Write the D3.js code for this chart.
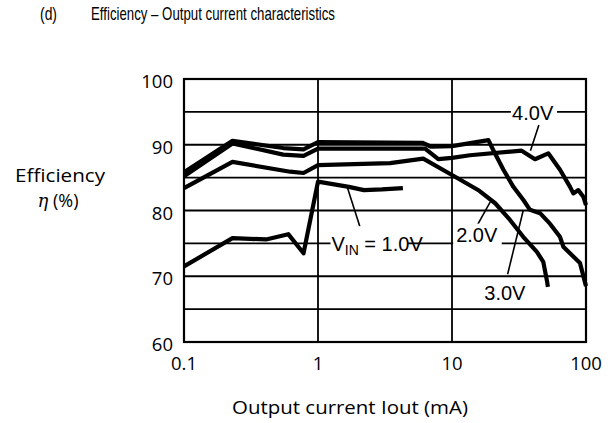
<!DOCTYPE html>
<html><head><meta charset="utf-8">
<script src="https://cdn.jsdelivr.net/npm/d3@7/dist/d3.min.js"></script>
<style>body{margin:0;background:#fff}svg{display:block}</style>
</head><body>
<svg id="c" width="613" height="423"></svg>
<script>
// ---- data ----
const xTicks = [0.1, 1, 10, 100];
const xTickLabels = ["0.1", "1", "10", "100"];
const yTicks = [60, 70, 80, 90, 100];
const yTickLabels = ["60", "70", "80", "90", "100"];
const yGrid = [65, 70, 75, 80, 85, 90, 95];
const xGrid = [1, 10];

const v1x = [0.1, 0.23, 0.41, 0.60, 0.78, 1.0, 1.7, 2.2, 3.0, 4.3];
const v1y = [71.5, 75.8, 75.6, 76.4, 73.5, 84.4, 83.6, 83.1, 83.2, 83.4];

const v2x = [0.1, 0.23, 0.62, 0.78, 1.0, 3.45, 6.1, 10, 16, 21, 27, 34, 43, 48, 51, 52];
const v2y = [83.4, 87.4, 85.9, 85.7, 86.9, 87.2, 87.9, 85.4, 83.0, 81.1, 78.6, 76.0, 73.7, 72.2, 69.4, 68.4];

const v3x = [0.1, 0.23, 0.55, 0.78, 1.0, 6.0, 7.0, 10, 18.7, 20.3, 24.2, 28.7, 34.1, 38.2, 45.4, 53.8, 63.9, 67.7, 90.2, 100];
const v3y = [85.8, 90.6, 89.5, 89.3, 90.4, 90.3, 89.7, 89.8, 90.7, 89.2, 86.2, 83.6, 81.6, 80.1, 79.6, 78.0, 76.0, 74.5, 72.0, 68.5];

const v4x = [0.1, 0.23, 0.55, 0.78, 1.0, 6.3, 7.9, 10, 13.6, 33.1, 41.6, 52.3, 64, 76, 80.4, 87.6, 95.5, 100];
const v4y = [85.2, 90.2, 88.5, 88.3, 89.4, 89.4, 87.8, 88.0, 88.4, 89.1, 87.8, 88.7, 86.2, 83.6, 82.6, 83.1, 82.1, 80.8];

const seriesNames = ["1.0V", "2.0V", "3.0V", "4.0V"];

// ---- chart ----
const svg = d3.select("#c");
const x = d3.scaleLog().domain([0.1, 100]).range([184, 586]);
const y = d3.scaleLinear().domain([60, 100]).range([342, 79]);

const tickFont = "'Open Sans', 'Noto Sans', sans-serif";
const lblFont = "'Liberation Sans', Arial, sans-serif";

// title
svg.append("text").attr("x", 40).attr("y", 20).attr("font-family", lblFont)
  .attr("font-size", 19).attr("textLength", 17).attr("lengthAdjust", "spacingAndGlyphs").text("(d)");
svg.append("text").attr("x", 91).attr("y", 20).attr("font-family", lblFont)
  .attr("font-size", 19).attr("textLength", 244).attr("lengthAdjust", "spacingAndGlyphs")
  .text("Efficiency \u2013 Output current characteristics");

// grid
const g = svg.append("g");
g.selectAll(".hg").data(yGrid).join("line")
  .attr("x1", x(0.1)).attr("x2", x(100)).attr("y1", d => y(d)).attr("y2", d => y(d))
  .attr("stroke", "#000").attr("stroke-width", 1.8);
g.selectAll(".vg").data(xGrid).join("line")
  .attr("x1", d => x(d)).attr("x2", d => x(d)).attr("y1", y(60)).attr("y2", y(100))
  .attr("stroke", "#000").attr("stroke-width", 1.8);
g.append("rect").attr("x", x(0.1)).attr("y", y(100))
  .attr("width", x(100) - x(0.1)).attr("height", y(60) - y(100))
  .attr("fill", "none").attr("stroke", "#000").attr("stroke-width", 2.2);

// series
const line = d3.line().x(d => x(d[0])).y(d => y(d[1]));
const series = [[v1x, v1y], [v2x, v2y], [v3x, v3y], [v4x, v4y]];
series.forEach(([sx, sy], i) => {
  svg.append("path").datum(d3.zip(sx, sy)).attr("d", line)
    .attr("fill", "none").attr("stroke", "#000").attr("stroke-width", 4.2)
    .attr("stroke-linejoin", "round").attr("data-name", seriesNames[i]);
});

// leaders
function leader(x1, y1, x2, y2) {
  svg.append("line").attr("x1", x(x1)).attr("y1", y(y1)).attr("x2", x(x2)).attr("y2", y(y2))
    .attr("stroke", "#000").attr("stroke-width", 1.6);
}
leader(38.5, 89.1, 44.5, 93.0);   // 4.0V
leader(34.0, 80.0, 26.0, 70.3);   // 3.0V
leader(19.3, 81.3, 15.2, 77.5);   // 2.0V
leader(1.65, 83.6, 2.05, 77.6);   // 1.0V

// 4.0V
svg.append("rect").attr("x", x(27.5)).attr("y", y(96.6)).attr("width", x(60.8) - x(27.5)).attr("height", y(93.8) - y(96.6)).attr("fill", "#fff");
svg.append("text").attr("x", x(40)).attr("y", y(93.8)).attr("text-anchor", "middle")
  .attr("font-family", lblFont).attr("font-size", 20).text("4.0V");
// 2.0V
svg.append("rect").attr("x", x(10.2)).attr("y", y(78)).attr("width", x(23.5) - x(10.2)).attr("height", y(74.4) - y(78)).attr("fill", "#fff");
svg.append("text").attr("x", x(15.3)).attr("y", y(75.2)).attr("text-anchor", "middle")
  .attr("font-family", lblFont).attr("font-size", 20).text("2.0V");
// 3.0V
svg.append("text").attr("x", x(24.8)).attr("y", y(66.4)).attr("text-anchor", "middle")
  .attr("font-family", lblFont).attr("font-size", 20).text("3.0V");
// VIN = 1.0V
svg.append("rect").attr("x", x(1.24)).attr("y", y(77.6)).attr("width", x(4.7) - x(1.24)).attr("height", y(73.6) - y(77.6)).attr("fill", "#fff");
const vt = svg.append("text").attr("x", x(1.26)).attr("y", y(73.9)).attr("font-family", lblFont).attr("font-size", 20);
vt.append("tspan").text("V");
vt.append("tspan").attr("font-size", 14).attr("dy", 4).text("IN");
vt.append("tspan").attr("dy", -4).text(" = 1.0V");

// tick labels
svg.selectAll(".yt").data(yTicks).join("text")
  .attr("x", 173).attr("y", d => y(d) + 9).attr("text-anchor", "end")
  .attr("font-family", tickFont).attr("font-size", 18.5).attr("font-weight", 500)
  .text((d, i) => yTickLabels[i]);
svg.selectAll(".xt").data(xTicks).join("text")
  .attr("x", d => x(d)).attr("y", 370).attr("text-anchor", "middle")
  .attr("font-family", tickFont).attr("font-size", 18.5).attr("font-weight", 500)
  .text((d, i) => xTickLabels[i]);

// axis titles
svg.append("text").attr("x", 15).attr("y", 182)
  .attr("font-family", tickFont).attr("font-size", 18).attr("font-weight", 500)
  .attr("textLength", 90).attr("lengthAdjust", "spacingAndGlyphs").text("Efficiency");
const et = svg.append("text").attr("x", 58).attr("y", 207).attr("text-anchor", "middle")
  .attr("font-family", tickFont).attr("font-size", 18).attr("font-weight", 500);
et.append("tspan").attr("font-style", "italic").attr("font-family", "'DejaVu Serif', serif").text("\u03b7");
et.append("tspan").text(" (%)");
svg.append("text").attr("x", 232).attr("y", 414)
  .attr("font-family", tickFont).attr("font-size", 19).attr("font-weight", 500)
  .attr("textLength", 236).attr("lengthAdjust", "spacingAndGlyphs")
  .text("Output current  Iout (mA)");
</script>
</body></html>
